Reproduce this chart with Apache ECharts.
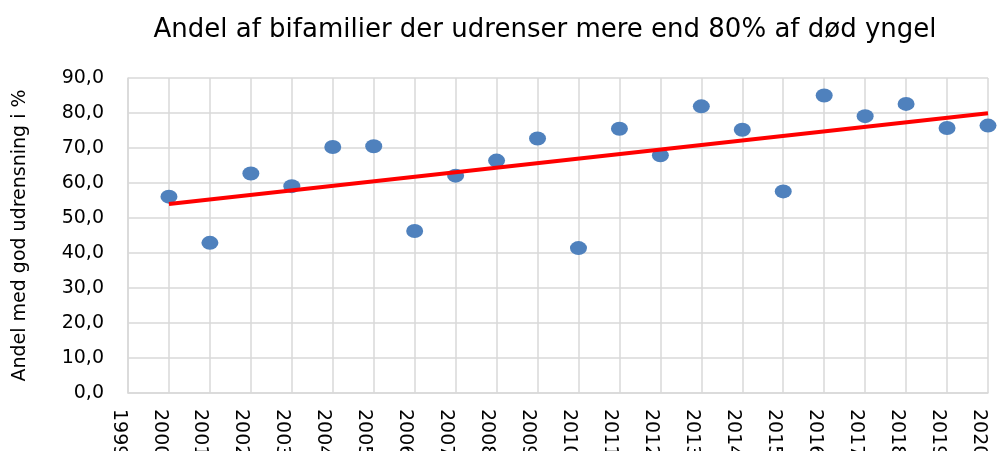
<!DOCTYPE html>
<html>
<head>
<meta charset="utf-8">
<script src="https://cdn.jsdelivr.net/npm/echarts@6/dist/echarts.min.js"></script>
<style>
  html, body { margin: 0; padding: 0; background: #fff; }
  #chart { width: 1003px; height: 451px; }
</style>
</head>
<body>
<div id="chart"></div>
<script>
// data
const years = [2000, 2001, 2002, 2003, 2004, 2005, 2006, 2007, 2008, 2009, 2010,
  2011, 2012, 2013, 2014, 2015, 2016, 2017, 2018, 2019, 2020]
const andel = [56.1, 42.9, 62.7, 59.1, 70.3, 70.5, 46.3, 62.1, 66.4, 72.7, 41.4,
  75.5, 67.9, 81.9, 75.2, 57.6, 85.0, 79.1, 82.6, 75.7, 76.4]
const trendYears = [2000, 2020]
const trendValues = [54.0, 79.9]

const font = 'DejaVu Sans'
const gridColor = '#d9d9d9'

const chart = echarts.init(document.getElementById('chart'))

chart.setOption({
  animation: false,
  title: {
    text: 'Andel af bifamilier der udrenser mere end 80% af død yngel',
    left: 540,
    textAlign: 'center',
    top: 12,
    textStyle: {
      fontFamily: font,
      fontSize: 26,
      fontWeight: 'normal',
      color: '#000'
    }
  },
  grid: {
    left: 128,
    right: 15,
    top: 78,
    bottom: 58,
    outerBoundsMode: 'none'
  },
  xAxis: {
    type: 'value',
    min: 1999,
    max: 2020,
    interval: 1,
    axisLine: { lineStyle: { color: gridColor, width: 1.5 } },
    axisTick: { show: false },
    splitLine: { show: true, lineStyle: { color: gridColor, width: 1.5 } },
    axisLabel: {
      rotate: -90,
      margin: 16,
      verticalAlign: 'top',
      fontFamily: font,
      fontSize: 19,
      color: '#000',
      formatter: v => String(v)
    }
  },
  yAxis: {
    type: 'value',
    min: 0,
    max: 90,
    interval: 10,
    name: 'Andel med god udrensning i %',
    nameLocation: 'middle',
    nameGap: 98,
    nameTextStyle: {
      fontFamily: font,
      fontSize: 19,
      color: '#000'
    },
    axisLine: { show: true, lineStyle: { color: gridColor, width: 1.5 } },
    axisTick: { show: false },
    splitLine: { lineStyle: { color: gridColor, width: 1.5 } },
    axisLabel: {
      margin: 24,
      fontFamily: font,
      fontSize: 19,
      color: '#000',
      formatter: v => v.toFixed(1).replace('.', ',')
    }
  },
  series: [
    {
      name: 'Andel',
      type: 'scatter',
      symbol: 'circle',
      symbolSize: [17, 14],
      itemStyle: { color: '#4f81bd', opacity: 1 },
      data: years.map((y, i) => [y, andel[i]]),
      z: 2
    },
    {
      name: 'Tendens',
      type: 'line',
      symbol: 'none',
      lineStyle: { color: '#ff0000', width: 4 },
      data: trendYears.map((y, i) => [y, trendValues[i]]),
      z: 3
    }
  ]
})
</script>
</body>
</html>
